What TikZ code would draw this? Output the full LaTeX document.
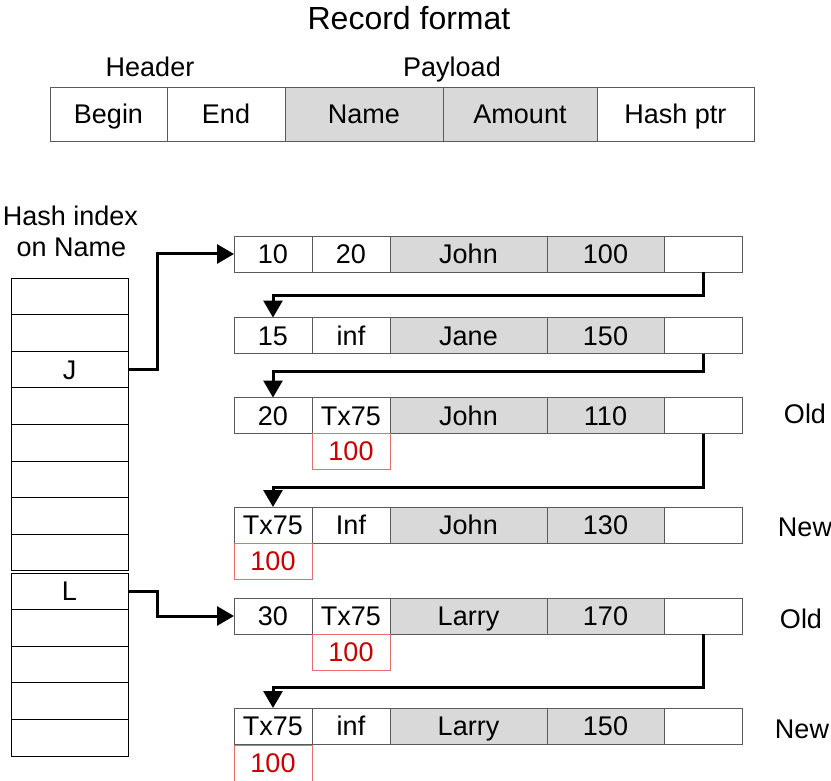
\documentclass[tikz,border=0pt]{standalone}
\usepackage{fontspec}
\setmainfont{Liberation Sans}
\usetikzlibrary{arrows.meta}
\definecolor{cellgray}{RGB}{217,217,217}
\definecolor{cellborder}{RGB}{90,90,90}
\definecolor{redtext}{RGB}{204,0,0}
\definecolor{redborder}{RGB}{232,110,110}
\tikzset{
  txt/.style={font=\fontsize{27}{32}\selectfont, text height=19.3pt, text depth=0pt, inner sep=0pt, outer sep=0pt},
  titletxt/.style={font=\fontsize{32}{38}\selectfont, text height=22.9pt, text depth=0pt, inner sep=0pt, outer sep=0pt},
  cell/.style={txt, draw=cellborder, line width=0.9pt, minimum height=36pt},
  graycell/.style={cell, fill=cellgray},
  redcell/.style={txt, draw=redborder, line width=0.9pt, minimum height=36pt, minimum width=78pt, text=redtext},
  hcell/.style={txt, draw=black, line width=0.9pt, minimum width=117pt, minimum height=36.6pt},
  link/.style={line width=3pt, -{Triangle[length=17pt,width=19pt]}}
}
\newcommand{\recrow}[7]{%
  \node[cell, minimum width=78pt] (#1a) at (273,#2) {#3};
  \node[cell, minimum width=78pt] (#1b) at (351,#2) {#4};
  \node[graycell, minimum width=157pt] (#1c) at (468.5,#2) {#5};
  \node[graycell, minimum width=117pt] (#1d) at (605.5,#2) {#6};
  \node[cell, minimum width=78pt] (#1e) at (703,#2) {#7};
}
\begin{document}
\begin{tikzpicture}[x=1pt,y=-1pt]
\useasboundingbox (0,0) rectangle (831,781);

% Record format
\node[titletxt] (title) at (409,18) {Record format};
\node[txt] (header) at (150,67) {Header};
\node[txt] (payload) at (452,67) {Payload};
\node[cell, minimum width=117pt, minimum height=54pt] (fbegin) at (108.5,114) {Begin};
\node[cell, minimum width=118pt, minimum height=54pt] (fend) at (226,114) {End};
\node[graycell, minimum width=158pt, minimum height=54pt] (fname) at (364,114) {Name};
\node[graycell, minimum width=154pt, minimum height=54pt] (famount) at (520,114) {Amount};
\node[cell, minimum width=157pt, minimum height=54pt] (fhash) at (675.5,114) {Hash ptr};

% Hash index
\node[txt] (hidx1) at (70.5,216) {Hash index};
\node[txt] (hidx2) at (71.5,247) {on Name};
\foreach \i/\t in {1/{},2/{},3/J,4/{},5/{},6/{},7/{},8/{}}
  \node[hcell] (h\i) at (69.5,{278+36.6*(\i-0.5)}) {\t};
\foreach \i/\t in {9/L,10/{},11/{},12/{},13/{}}
  \node[hcell] (h\i) at (69.5,{573+36.6*(\i-8.5)}) {\t};

% Records
\recrow{r1}{254}{10}{20}{John}{100}{}
\recrow{r2}{335.5}{15}{inf}{Jane}{150}{}
\recrow{r3}{415.5}{20}{Tx75}{John}{110}{}
\recrow{r4}{525}{Tx75}{Inf}{John}{130}{}
\recrow{r5}{616}{30}{Tx75}{Larry}{170}{}
\recrow{r6}{726}{Tx75}{inf}{Larry}{150}{}

\node[redcell] (r3red) at (351,451) {100};
\node[redcell] (r4red) at (273,561) {100};
\node[redcell] (r5red) at (351,652) {100};
\node[redcell] (r6red) at (273,763) {100};

% Old / New labels
\node[txt] (old1) at (805,414) {Old};
\node[txt] (new1) at (805,527) {New};
\node[txt] (old2) at (801,619) {Old};
\node[txt] (new2) at (802,729) {New};

% Links
\draw[link] (h3.east) -- ++(29,0) |- (r1a.west);
\draw[link] (h9.east) -- ++(29,0) |- (r5a.west);
\draw[link] (r1e.south) |- ([yshift=22pt]r2a.north) -- (r2a.north);
\draw[link] (r2e.south) |- ([yshift=26pt]r3a.north) -- (r3a.north);
\draw[link] (r3e.south) |- ([yshift=20pt]r4a.north) -- (r4a.north);
\draw[link] (r5e.south) |- ([yshift=21pt]r6a.north) -- (r6a.north);
\end{tikzpicture}
\end{document}
